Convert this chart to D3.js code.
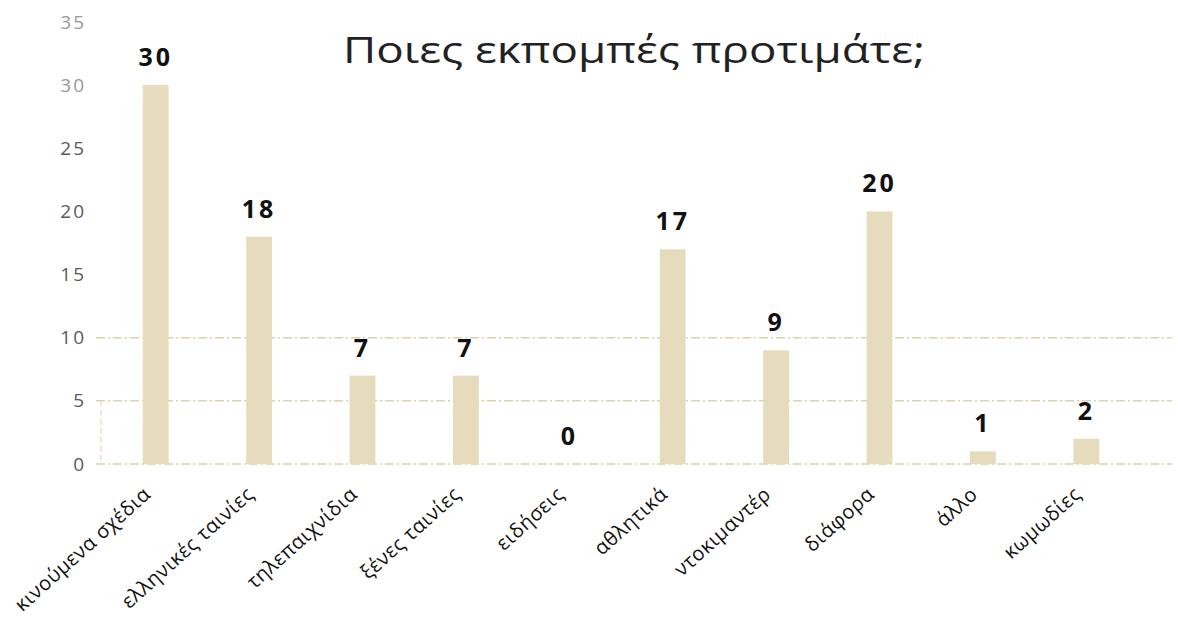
<!DOCTYPE html>
<html>
<head>
<meta charset="utf-8">
<script src="https://cdn.jsdelivr.net/npm/d3@7"></script>
<style>
  body { margin: 0; background: #fff; }
  text { font-family: "Open Sans", "DejaVu Sans", sans-serif; }
</style>
</head>
<body>
<div id="chart"></div>
<script>
// data
const categories = ["κινούμενα σχέδια", "ελληνικές ταινίες", "τηλεπαιχνίδια", "ξένες ταινίες", "ειδήσεις",
  "αθλητικά", "ντοκιμαντέρ", "διάφορα", "άλλο", "κωμωδίες"];
const counts = [30, 18, 7, 7, 0, 17, 9, 20, 1, 2];
const yTicks = [0, 5, 10, 15, 20, 25, 30, 35];
const title = "Ποιες εκπομπές προτιμάτε;";

const width = 1178, height = 628;
const barColor = "#e6dcbd";
const gridColor = "#ddd2ad";

const svg = d3.select("#chart").append("svg")
  .attr("width", width)
  .attr("height", height);

/* Scales */
const x = d3.scaleBand()
  .domain(categories)
  .range([104, 1138])
  .paddingInner(0.75)
  .paddingOuter(0.375);

const y = d3.scaleLinear()
  .domain([0, 35])
  .range([464, 22]);

/* gridlines */
svg.append("g")
  .selectAll("line")
  .data(yTicks.filter(d => d <= 10))
  .enter().append("line")
  .attr("x1", 96)
  .attr("x2", 1172)
  .attr("y1", d => y(d))
  .attr("y2", d => y(d))
  .style("stroke", gridColor)
  .style("stroke-width", 1.5)
  .style("stroke-dasharray", "9,3,2,3");

// faint axis line
svg.append("line")
  .attr("x1", 101).attr("x2", 101)
  .attr("y1", y(5)).attr("y2", y(0))
  .style("stroke", gridColor)
  .style("stroke-dasharray", "6,3");

/* y axis labels */
const yAxis = d3.axisLeft(y).tickValues(yTicks).tickSize(0).tickPadding(0);
const yg = svg.append("g")
  .attr("transform", "translate(86,0)")
  .call(yAxis);
yg.select(".domain").remove();
yg.selectAll("text")
  .style("font-family", "'Open Sans', sans-serif")
  .style("font-size", "19px")
  .style("letter-spacing", "2px")
  .attr("fill", d => d >= 30 ? "#9a9a9a" : "#5a5a5a");

/* bars */
svg.append("g")
  .selectAll("rect")
  .data(counts)
  .enter().append("rect")
  .attr("x", (d, i) => x(categories[i]))
  .attr("y", d => y(d))
  .attr("width", x.bandwidth())
  .attr("height", d => y(0) - y(d))
  .style("fill", barColor);

/* value labels */
svg.append("g")
  .selectAll("text")
  .data(counts)
  .enter().append("text")
  .attr("x", (d, i) => x(categories[i]) + x.bandwidth() / 2)
  .attr("y", d => y(d) - 19)
  .attr("text-anchor", "middle")
  .style("font-size", "25px")
  .style("font-weight", "bold")
  .style("letter-spacing", "3px")
  .attr("fill", "#111")
  .text(d => d);

/* category labels */
svg.append("g")
  .selectAll("text")
  .data(categories)
  .enter().append("text")
  .attr("transform", d => `translate(${x(d) + x.bandwidth() / 2 - 4}, 496) rotate(-42)`)
  .attr("text-anchor", "end")
  .style("font-size", "20px")
  .style("letter-spacing", "0.5px")
  .attr("fill", "#111")
  .text(d => d);

/* title, stretched a bit like the picture */
svg.append("text")
  .attr("transform", "translate(634,63) scale(1.27,1)")
  .attr("text-anchor", "middle")
  .style("font-size", "36px")
  .attr("fill", "#222")
  .text(title);
</script>
</body>
</html>
